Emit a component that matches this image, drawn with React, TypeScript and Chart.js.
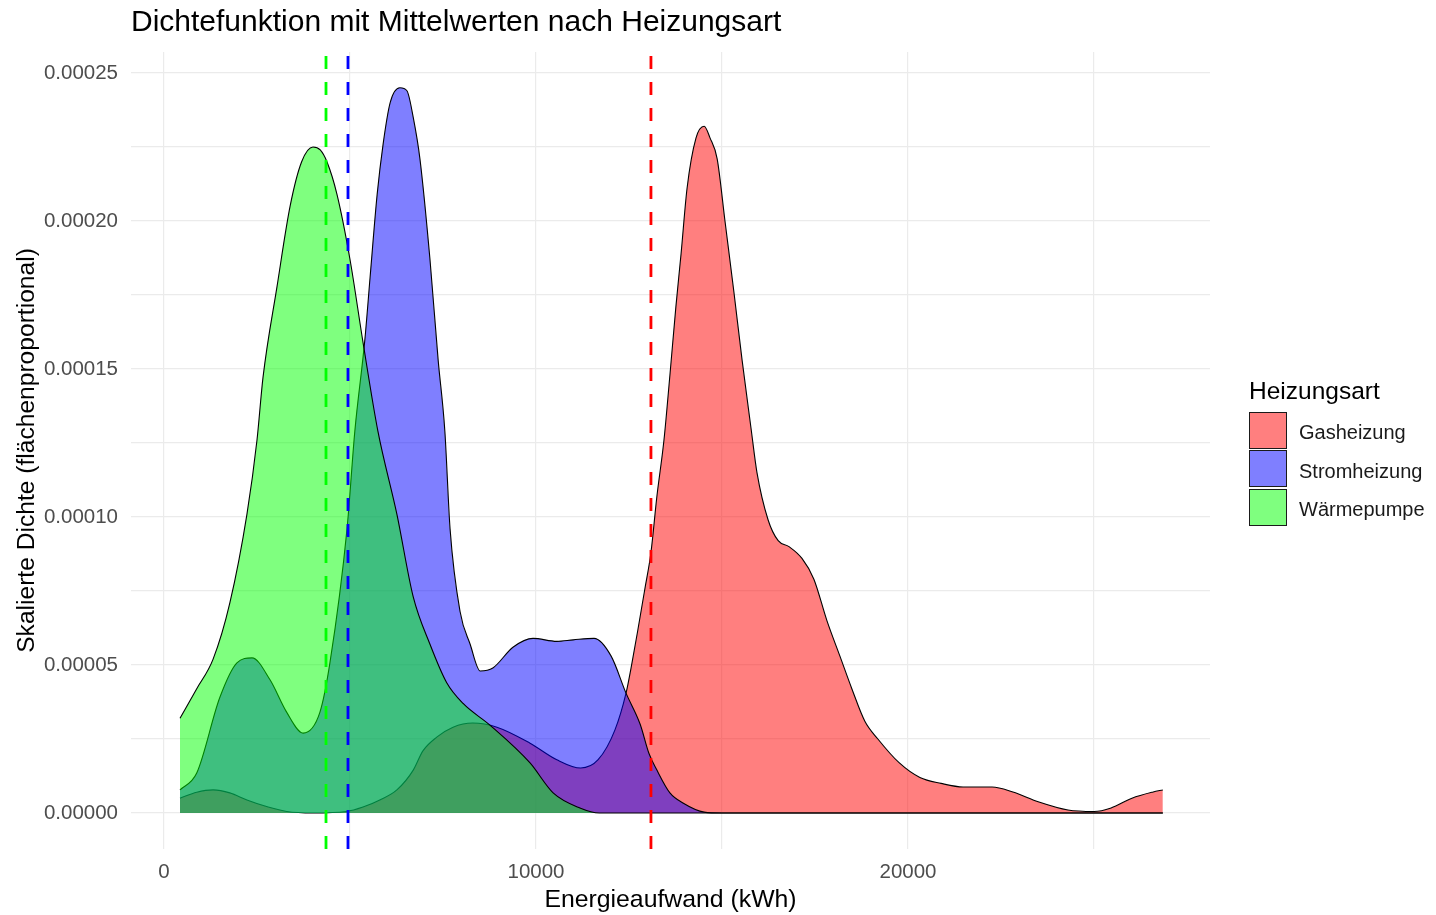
import React, { useEffect, useRef } from 'react';
import { Chart, registerables } from 'chart.js';

Chart.register(...registerables);

// ---------- data ----------
const seriesNames = ['Gasheizung', 'Stromheizung', 'Wärmepumpe'];

const gasKwh = [430, 880, 1320, 1770, 2230, 2800, 3300, 4000, 4900, 5350, 5800, 6260, 6700, 6960, 7340, 7770, 8300, 8950, 9840, 10560, 11200, 11670, 12120, 12420, 12580, 12740, 12930, 13090, 13250, 13440, 13600, 13760, 13900, 14060, 14300, 14520, 14680, 14870, 15080, 15320, 15540, 15780, 15940, 16240, 16510, 16800, 17150, 17470, 17820, 18170, 18490, 18840, 19190, 19760, 20320, 20890, 21480, 22260, 22820, 23520, 24300, 25000, 25460, 26020, 26590, 26850];
const gasDensity = [0.5e-5, 0.7e-5, 0.78e-5, 0.68e-5, 0.44e-5, 0.2e-5, 0.05e-5, 0, 0.05e-5, 0.2e-5, 0.44e-5, 0.78e-5, 1.45e-5, 2.1e-5, 2.57e-5, 2.9e-5, 3.04e-5, 2.9e-5, 2.36e-5, 1.8e-5, 1.52e-5, 1.8e-5, 2.8e-5, 4.05e-5, 5.07e-5, 6.2e-5, 7.6e-5, 8.8e-5, 10.7e-5, 12.6e-5, 14.8e-5, 17.1e-5, 18.9e-5, 21.1e-5, 22.8e-5, 23.2e-5, 22.8e-5, 22.1e-5, 20.0e-5, 17.6e-5, 15.3e-5, 13.0e-5, 11.5e-5, 9.9e-5, 9.2e-5, 9.0e-5, 8.6e-5, 7.9e-5, 6.5e-5, 5.3e-5, 4.2e-5, 3.1e-5, 2.5e-5, 1.7e-5, 1.2e-5, 1.0e-5, 0.88e-5, 0.88e-5, 0.71e-5, 0.37e-5, 0.1e-5, 0.05e-5, 0.17e-5, 0.5e-5, 0.71e-5, 0.78e-5];

const stromKwh = [430, 880, 1500, 1960, 2365, 2850, 3300, 3740, 4190, 4460, 4920, 5130, 5400, 5540, 5730, 5890, 6080, 6340, 6530, 6700, 6880, 7150, 7370, 7550, 7690, 7960, 8230, 8500, 8840, 9380, 9920, 10560, 11000, 11560, 12020, 12420, 12800, 13040, 13250, 13600, 13950, 14520, 15000, 26850];
const stromDensity = [0.78e-5, 1.35e-5, 3.9e-5, 5.07e-5, 5.24e-5, 4.5e-5, 3.4e-5, 2.7e-5, 3.4e-5, 5.07e-5, 9.6e-5, 12.9e-5, 16.0e-5, 18.1e-5, 20.9e-5, 22.6e-5, 24.0e-5, 24.5e-5, 24.4e-5, 23.5e-5, 22.1e-5, 18.7e-5, 15.3e-5, 12.9e-5, 9.6e-5, 6.8e-5, 5.7e-5, 4.8e-5, 4.9e-5, 5.6e-5, 5.9e-5, 5.8e-5, 5.85e-5, 5.9e-5, 5.3e-5, 4.05e-5, 3.0e-5, 2.0e-5, 1.45e-5, 0.68e-5, 0.34e-5, 0.03e-5, 0, 0];

const waermeKwh = [430, 880, 1320, 1770, 2230, 2500, 2660, 3040, 3390, 3700, 4005, 4200, 4380, 4650, 5000, 5350, 5750, 6260, 6700, 7150, 7600, 8040, 8760, 9840, 10460, 11180, 11700, 26850];
const waermeDensity = [3.2e-5, 4.2e-5, 5.2e-5, 7.1e-5, 10.1e-5, 12.6e-5, 14.7e-5, 17.8e-5, 20.5e-5, 22.0e-5, 22.5e-5, 22.4e-5, 22.0e-5, 20.9e-5, 18.7e-5, 15.9e-5, 12.9e-5, 10.1e-5, 7.3e-5, 5.7e-5, 4.4e-5, 3.7e-5, 2.97e-5, 1.69e-5, 0.68e-5, 0.17e-5, 0, 0];

const meanKwh = [13090, 4946, 4355]; // Gasheizung, Stromheizung, Wärmepumpe

const xTicks = [0, 5000, 10000, 15000, 20000, 25000];
const yTicks = [0, 0.000025, 0.00005, 0.000075, 0.0001, 0.000125, 0.00015, 0.000175, 0.0002, 0.000225, 0.00025];

// ---------- styling ----------
const FONT = "'Liberation Sans', Arial, Helvetica, sans-serif";
const fillColors = ['rgba(255,0,0,0.5)', 'rgba(0,0,255,0.5)', 'rgba(0,255,0,0.5)'];
const meanColors = ['#FF0000', '#0000FF', '#00FF00'];
const X_MIN = -887;
const X_MAX = 28118;
const Y_MIN = -0.00001216;
const Y_MAX = 0.0002571;

export default function App() {
  const canvasRef = useRef<HTMLCanvasElement | null>(null);

  useEffect(() => {
    if (!canvasRef.current) return;
    const xs = [gasKwh, stromKwh, waermeKwh];
    const ys = [gasDensity, stromDensity, waermeDensity];
    const densitySets = seriesNames.map((name, k) => ({
      label: name,
      data: xs[k].map((x, i) => ({ x, y: ys[k][i] })),
      borderColor: '#000000',
      borderWidth: 1.1,
      backgroundColor: fillColors[k],
      fill: 'origin',
      pointRadius: 0,
      cubicInterpolationMode: 'monotone',
      order: 3 - k,
    }));
    const meanSets = meanKwh.map((m, k) => ({
      label: 'Mittelwert ' + seriesNames[k],
      data: [
        { x: m, y: Y_MIN },
        { x: m, y: Y_MAX },
      ],
      borderColor: meanColors[k],
      borderWidth: 2.8,
      borderDash: [13, 13],
      fill: false,
      pointRadius: 0,
      order: 0,
    }));

    const chart = new Chart(canvasRef.current, {
      type: 'line',
      data: { datasets: [...densitySets, ...meanSets] as any },
      options: {
        animation: false,
        responsive: false,
        events: [],
        layout: { padding: { top: 52, right: 226, bottom: 0, left: 0 } },
        plugins: {
          legend: { display: false },
          title: { display: false },
          tooltip: { enabled: false },
        },
        scales: {
          x: {
            type: 'linear',
            min: X_MIN,
            max: X_MAX,
            afterBuildTicks: (s: any) => {
              s.ticks = xTicks.map((v) => ({ value: v }));
            },
            afterFit: (s: any) => {
              s.height = 66;
            },
            grid: { color: '#EBEBEB', lineWidth: 1.2, drawTicks: false },
            border: { display: false },
            ticks: {
              autoSkip: false,
              maxRotation: 0,
              padding: 11,
              color: '#4D4D4D',
              font: { family: FONT, size: 20.5 },
              callback: (v: any) => (Number(v) % 10000 === 0 ? String(v) : ''),
            },
            title: {
              display: true,
              text: 'Energieaufwand (kWh)',
              color: '#000000',
              font: { family: FONT, size: 24.8 },
              padding: { top: 0, bottom: 0 },
            },
          },
          y: {
            type: 'linear',
            min: Y_MIN,
            max: Y_MAX,
            afterBuildTicks: (s: any) => {
              s.ticks = yTicks.map((v) => ({ value: v }));
            },
            afterFit: (s: any) => {
              s.width = 131;
            },
            grid: { color: '#EBEBEB', lineWidth: 1.2, drawTicks: false },
            border: { display: false },
            ticks: {
              autoSkip: false,
              padding: 13,
              color: '#4D4D4D',
              font: { family: FONT, size: 20.5 },
              callback: (v: any, i: number) => (i % 2 === 0 ? Number(v).toFixed(5) : ''),
            },
            title: {
              display: true,
              text: 'Skalierte Dichte (flächenproportional)',
              color: '#000000',
              font: { family: FONT, size: 24.6 },
              padding: { top: 12, bottom: 0 },
            },
          },
        },
      } as any,
    });
    return () => chart.destroy();
  }, []);

  return (
    <div style={{ position: 'absolute', left: 0, top: 0, width: 1436, height: 915, background: '#fff', fontFamily: FONT }}>
      <canvas ref={canvasRef} width={1436} height={915} style={{ position: 'absolute', left: 0, top: 0, width: 1436, height: 915 }} />
      <div style={{ position: 'absolute', left: 131, top: 6, fontSize: 30, lineHeight: '30px', color: '#000', whiteSpace: 'nowrap' }}>
        Dichtefunktion mit Mittelwerten nach Heizungsart
      </div>
      <div style={{ position: 'absolute', left: 1249, top: 379, fontSize: 24.5, lineHeight: '24px', color: '#000', whiteSpace: 'nowrap' }}>
        Heizungsart
      </div>
      <div style={{ position: 'absolute', left: 1249, top: 411 }}>
        {seriesNames.map((name, k) => (
          <div key={name} style={{ display: 'flex', alignItems: 'center', height: 38.6 }}>
            <div style={{ width: 36, height: 35, border: '1.3px solid #1a1a1a', background: fillColors[k], boxSizing: 'content-box' }} />
            <div style={{ marginLeft: 12, marginTop: 4, fontSize: 20, lineHeight: '20px', color: '#1a1a1a', whiteSpace: 'nowrap' }}>{name}</div>
          </div>
        ))}
      </div>
    </div>
  );
}
